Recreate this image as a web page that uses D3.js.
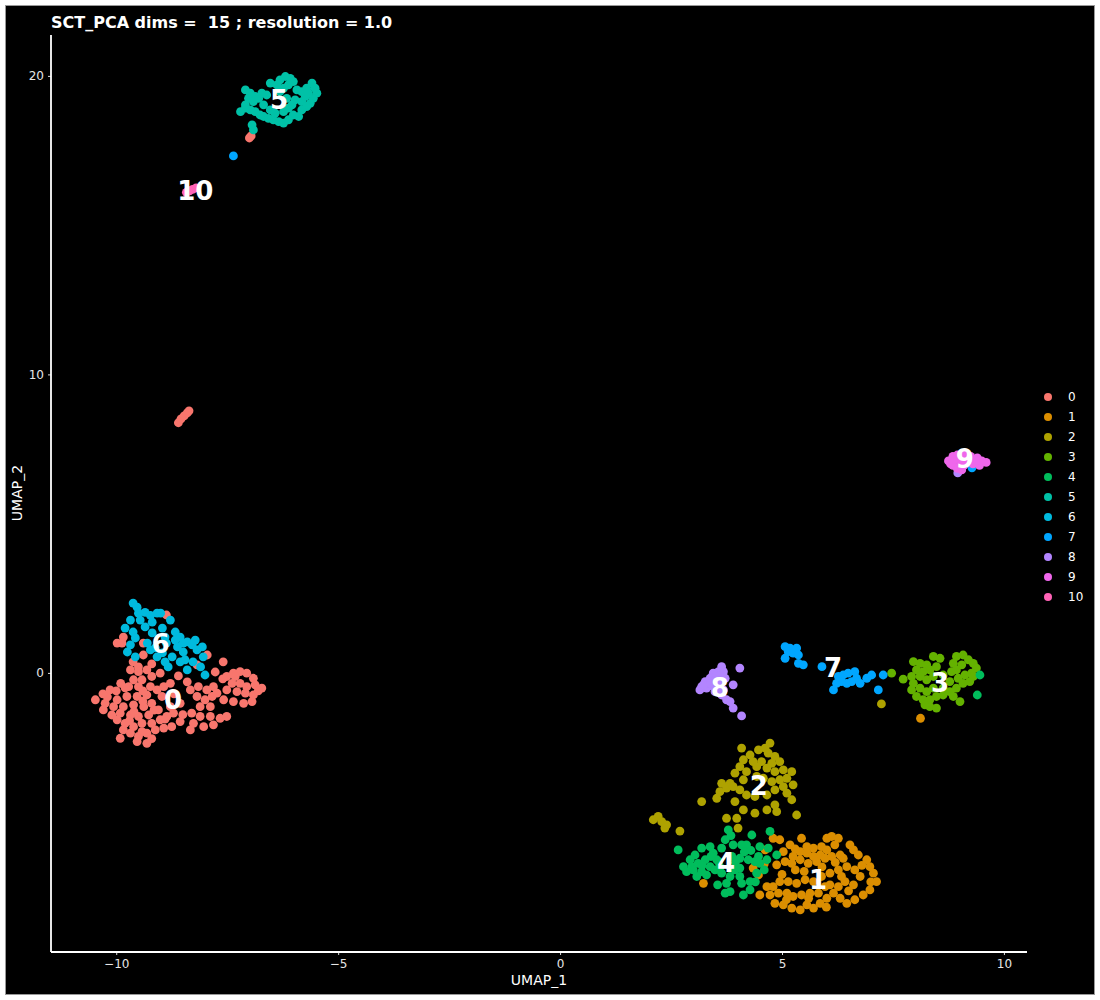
<!DOCTYPE html>
<html><head><meta charset="utf-8">
<script src="https://cdn.jsdelivr.net/npm/d3@7"></script>
<style>body{margin:0;background:#fff;}svg{display:block;font-family:"DejaVu Sans",sans-serif;}</style>
</head><body>
<svg id="chart" width="1100" height="1000"></svg>
<script>
const titleText = "SCT_PCA dims =  15 ; resolution = 1.0";
const clusterNames = ["0","1","2","3","4","5","6","7","8","9","10"];
const clusterColors = ["#F8766D","#DB8E00","#AEA200","#64B200","#00BD5C","#00C1A7","#00BADE","#00A6FF","#B385FF","#EF67EB","#FF63B6"];
const xTicks = [-10,-5,0,5,10];
const yTicks = [0,10,20];

const c0 = [[-9.68,0.1],[-9.5,0.04],[-9.31,0.1],[-9.2,-0.12],[-9.01,-0.01],[-9.42,-0.23],[-9.61,-0.23],[-9.72,-0.46],[-9.5,-0.46],[-9.23,-0.46],[-9.08,-0.57],[-9.31,-0.74],[-9.53,-0.79],[-9.76,-0.79],[-9.98,-0.9],[-10.14,-0.57],[-10.25,-1.02],[-10.06,-1.13],[-9.84,-1.13],[-9.61,-1.07],[-9.38,-1.13],[-9.2,-1.02],[-8.93,-0.46],[-8.78,-0.35],[-8.97,-0.79],[-9.05,-1.24],[-9.27,-1.41],[-9.5,-1.46],[-9.68,-1.41],[-9.91,-1.35],[-10.1,-1.41],[-10.29,-1.24],[-10.47,-0.9],[-9.98,-1.57],[-9.8,-1.69],[-9.61,-1.8],[-9.42,-1.69],[-9.2,-1.69],[-9.01,-1.57],[-8.86,-1.46],[-8.71,-1.35],[-8.56,-1.02],[-8.78,-1.13],[-9.68,-2.02],[-9.5,-2.13],[-9.31,-2.02],[-9.12,-1.91],[-8.93,-1.85],[-8.75,-1.8],[-8.56,-1.63],[-9.53,-2.3],[-9.31,-2.36],[-9.42,-1.97],[-9.84,-1.91],[-9.91,-2.19],
[-8.33,-0.57],[-8.15,-0.46],[-7.96,-0.57],[-7.81,-0.46],[-8.18,-0.79],[-8.0,-0.9],[-7.84,-0.79],[-7.73,-0.68],[-8.11,-1.13],[-7.88,-1.13],[-8.3,-1.35],[-8.11,-1.46],[-7.88,-1.46],[-7.66,-1.52],[-7.51,-1.46],[-8.26,-1.69],[-8.03,-1.8],[-7.81,-1.74],[-8.33,-1.91],
[-7.51,-0.12],[-7.36,-0.01],[-7.21,0.04],[-7.06,-0.01],[-6.91,-0.18],[-7.39,-0.35],[-7.21,-0.35],[-7.06,-0.46],[-6.87,-0.4],[-6.72,-0.51],[-7.51,-0.57],[-7.28,-0.63],[-7.09,-0.68],[-6.91,-0.74],[-7.36,-0.96],[-7.13,-1.02],[-6.94,-0.96],[-7.58,-0.9],[-7.32,-0.12],
[-8.87,1.94],[-9.84,1.2],[-9.98,1.0],[-9.87,1.0],[-9.39,1.0],[-9.39,0.6],[-9.62,0.37],[-7.95,0.6],[-7.59,0.37],[-7.77,0.03],[-8.18,0.27],[-9.5,0.2],[-9.2,0.3],[-8.6,-0.1],[-8.4,-0.3],
[-9.9,-0.35],[-10.0,-0.6],[-9.4,-0.95],[-9.15,-1.25],[-9.6,-1.3],[-10.2,-0.8],[-8.7,-0.7],[-8.9,-1.55],
[-9.8,-0.5],[-9.4,-0.6],[-9.7,-1.6],[-9.2,-2.2],[-8.5,-1.4],[-10.3,-0.7],[-7.6,-0.2],[-6.8,-0.6],
[-8.6,8.38],[-8.54,8.51],[-8.47,8.61],[-8.4,8.71],[-8.36,8.78],[-7.0,17.92],[-6.96,17.99]];

const c1 = [[4.8,-5.54],[4.95,-5.59],[5.18,-5.76],[5.44,-5.54],[5.56,-5.82],[5.71,-5.87],[5.89,-5.82],[6.01,-5.54],[6.12,-5.48],[6.27,-5.54],[6.19,-5.76],[6.01,-5.93],[5.86,-6.1],[5.71,-6.15],[5.56,-6.04],[5.41,-5.99],[5.25,-6.15],[5.03,-5.99],[4.88,-6.43],[5.07,-6.32],[5.22,-6.38],[5.41,-6.26],[5.59,-6.38],[5.78,-6.32],[5.97,-6.21],[6.12,-6.15],[6.31,-6.1],[6.53,-5.76],[6.61,-5.93],[6.72,-6.1],[6.91,-6.26],[6.98,-6.49],[7.06,-6.71],[7.13,-6.99],[6.98,-7.27],[6.83,-7.44],[6.64,-7.6],[6.46,-7.72],[6.31,-7.55],[6.16,-7.38],[6.01,-7.55],[5.86,-7.72],[5.71,-7.88],[5.56,-7.77],[5.41,-7.94],[5.22,-7.88],[5.03,-7.77],[4.84,-7.72],[4.73,-7.44],[4.8,-7.16],[4.95,-6.99],[5.14,-6.99],[5.33,-7.05],[5.52,-6.93],[5.71,-6.99],[5.89,-6.82],[6.08,-6.71],[6.27,-6.6],[6.46,-6.49],[6.64,-6.6],[6.76,-6.82],[6.61,-7.1],[6.42,-6.99],[6.27,-7.16],[6.08,-7.1],[5.97,-7.16],[5.82,-7.38],[5.63,-7.38],[5.44,-7.44],[5.25,-7.49],[5.11,-7.38],[4.92,-7.38],[4.66,-7.16],[4.5,-7.44],[4.47,-6.77],[4.62,-5.93],[4.35,-6.54],[3.23,-7.05],[6.38,-6.21],[6.34,-6.82],
[5.3,-6.6],[5.5,-6.65],[5.9,-6.5],[6.2,-6.35],[6.5,-7.3],[5.1,-7.6],[5.6,-7.55],[6.8,-6.45],[7.0,-7.0],[4.6,-6.4],[5.0,-6.75],[6.0,-7.85],[5.3,-5.9],[8.12,-1.52]];

const c2 = [[4.09,-2.52],[4.28,-2.75],[4.47,-2.58],[4.62,-2.52],[4.73,-2.35],[4.69,-2.69],[4.84,-2.8],[4.95,-2.97],[4.77,-3.03],[4.54,-2.97],[4.35,-2.97],[4.13,-2.91],[4.05,-3.14],[4.2,-3.31],[4.43,-3.14],[4.66,-3.19],[4.84,-3.31],[5.03,-3.25],[5.22,-3.31],[5.11,-3.53],[4.95,-3.58],[4.77,-3.64],[4.58,-3.53],[4.13,-3.58],[3.94,-3.36],[3.83,-3.7],[3.64,-3.7],[3.6,-3.98],[3.53,-4.2],[3.75,-3.86],[3.9,-3.81],[4.05,-3.92],[4.2,-4.09],[4.39,-4.14],[4.66,-4.09],[4.84,-3.92],[5.03,-3.81],[5.25,-3.75],[5.11,-4.03],[5.22,-4.25],[4.84,-4.42],[4.88,-4.65],[4.66,-4.59],[4.39,-4.7],[4.13,-4.59],[3.94,-4.31],[3.75,-4.87],[3.98,-4.87],[3.19,-4.31],[5.33,-4.76],[4.43,-3.47],[4.01,-5.2],[2.1,-4.92],[2.21,-4.81],[2.29,-4.98],[2.4,-5.09],[2.36,-5.2],[2.7,-5.3],[7.24,-1.04]];

const c3 = [[7.47,-0.01],[7.73,-0.21],[7.96,0.38],[8.11,0.32],[8.26,0.27],[8.41,0.55],[8.56,0.49],[8.48,0.21],[8.33,0.1],[8.18,0.04],[8.03,0.1],[7.92,-0.12],[8.11,-0.12],[8.26,-0.23],[8.41,-0.12],[8.63,-0.07],[8.82,0.04],[8.86,0.32],[8.93,0.55],[9.08,0.6],[9.2,0.44],[9.31,0.32],[9.38,0.16],[9.27,-0.01],[9.12,-0.07],[8.97,-0.18],[8.93,0.1],[8.78,-0.29],[9.08,-0.35],[9.23,-0.29],[8.93,-0.51],[8.78,-0.63],[8.63,-0.74],[8.48,-0.79],[8.33,-0.9],[8.18,-0.9],[8.03,-0.79],[7.92,-0.57],[7.96,-0.35],[8.11,-0.51],[8.26,-0.63],[8.41,-0.51],[8.63,-0.51],[8.86,-0.79],[9.01,-0.96],[8.33,-1.13],[8.48,-1.18],[8.22,-1.07],[9.31,-0.12],[9.05,0.27]];

const c4 = [[3.79,-5.26],[4.32,-5.43],[4.09,-5.76],[4.2,-5.76],[3.9,-5.76],[3.72,-5.59],[3.64,-5.87],[3.38,-5.82],[3.19,-5.87],[3.04,-6.1],[2.93,-6.26],[2.78,-6.49],[2.97,-6.49],[3.11,-6.38],[3.27,-6.26],[3.45,-6.04],[3.53,-6.26],[3.38,-6.49],[3.19,-6.66],[3.08,-6.82],[3.3,-6.77],[3.49,-6.6],[3.64,-6.71],[3.83,-6.82],[3.75,-7.05],[3.94,-6.6],[4.05,-6.82],[4.09,-7.05],[4.28,-6.99],[4.28,-7.27],[4.13,-7.44],[3.83,-7.33],[3.72,-7.38],[4.43,-6.71],[4.5,-6.38],[4.47,-6.15],[4.66,-6.26],[4.69,-5.87],[4.73,-5.31],[4.5,-5.82],[2.66,-5.93],[4.88,-6.1],[4.05,-6.21],[3.87,-6.15],[3.57,-6.32],[4.24,-6.26],[4.39,-6.32],[4.05,-6.54],[2.85,-6.66],
[3.4,-6.15],[3.2,-6.45],[3.6,-6.5],[3.95,-6.35],[4.15,-6.0],[3.55,-7.1],[4.4,-7.0],[3.0,-6.6],[4.6,-6.6],[3.85,-5.45],[4.3,-5.95],[9.46,-0.07],[9.4,-0.74]];

const c5 = [[-7.09,19.53],[-6.98,19.42],[-6.87,19.31],[-7.02,19.25],[-7.09,19.03],[-6.91,19.14],[-6.79,19.25],[-6.72,19.42],[-6.61,19.36],[-6.53,19.76],[-6.38,19.7],[-6.31,19.87],[-6.19,19.98],[-6.08,19.92],[-6.01,19.81],[-6.12,19.7],[-6.23,19.59],[-6.31,19.47],[-5.93,19.53],[-5.82,19.47],[-5.71,19.59],[-5.59,19.76],[-5.52,19.59],[-5.48,19.42],[-5.56,19.25],[-5.63,19.08],[-5.71,18.97],[-5.82,18.86],[-5.89,18.64],[-6.01,18.69],[-6.12,18.53],[-6.23,18.42],[-6.34,18.47],[-6.46,18.53],[-6.57,18.58],[-6.68,18.64],[-6.76,18.69],[-6.87,18.8],[-6.98,18.86],[-7.09,18.92],[-6.53,18.86],[-6.42,18.75],[-6.23,18.8],[-6.12,18.92],[-6.04,19.03],[-5.97,19.2],[-5.82,19.14],[-5.74,19.31],[-6.16,19.25],[-6.68,19.03],[-6.94,18.36],[-6.91,18.19],[-5.67,19.42],[-7.2,18.8]];

const c6 = [[-9.62,2.34],[-9.53,2.2],[-9.5,2.0],[-9.35,2.03],[-9.23,1.93],[-9.08,2.0],[-9.0,2.0],[-9.19,1.7],[-9.35,1.54],[-9.62,1.37],[-9.8,1.5],[-9.68,1.77],[-9.57,1.17],[-9.68,0.94],[-9.75,0.7],[-9.57,0.54],[-9.3,1.0],[-9.19,1.34],[-8.96,1.5],[-8.9,1.2],[-8.67,1.37],[-8.56,1.2],[-8.4,1.04],[-8.29,0.94],[-8.18,0.77],[-8.06,0.87],[-8.04,0.54],[-8.1,0.2],[-8.0,-0.07],[-8.4,0.1],[-8.56,0.37],[-8.74,0.54],[-8.9,0.37],[-8.83,0.2],[-8.96,0.67],[-9.12,0.84],[-9.23,0.77],[-8.62,0.87],[-8.49,0.7],[-8.27,0.37],[-8.67,1.1],[-8.49,1.0],[-8.87,1.0],[-9.08,0.54],[-8.78,1.77],[-9.46,1.77],[-8.45,0.44],[-8.22,1.1]];

const c7 = [[5.07,0.88],[5.18,0.83],[5.33,0.83],[5.14,0.71],[5.25,0.66],[5.07,0.49],[5.37,0.32],[5.48,0.27],[5.37,0.6],[5.9,0.21],[6.27,-0.12],[6.38,-0.07],[6.49,-0.01],[6.64,0.04],[6.68,-0.18],[6.57,-0.29],[6.46,-0.35],[6.34,-0.29],[6.23,-0.35],[6.16,-0.57],[6.76,-0.35],[6.91,-0.18],[7.02,-0.07],[7.28,-0.07],[7.17,-0.57],[9.28,6.87],[-7.36,17.32]];

const c8 = [[3.64,0.21],[3.57,0.04],[3.45,-0.01],[3.38,-0.18],[3.27,-0.29],[3.19,-0.46],[3.15,-0.57],[3.3,-0.51],[3.45,-0.46],[3.6,-0.35],[3.72,-0.18],[3.68,0.04],[3.53,-0.12],[3.38,-0.35],[3.49,-0.63],[3.64,-0.74],[3.75,-0.9],[3.83,-0.96],[4.05,0.16],[3.9,-0.4],[3.9,-1.18],[4.09,-1.44],[3.68,-0.57],[3.23,-0.4],[3.5,-0.25],[3.6,-0.1],[3.4,-0.35],[3.55,-0.6],[8.96,6.7]];

const c9 = [[8.75,7.1],[8.85,7.25],[8.95,7.3],[9.1,7.3],[9.25,7.25],[9.4,7.2],[9.5,7.1],[9.45,6.95],[9.3,7.0],[9.15,7.05],[9.0,7.1],[8.85,6.95],[8.95,6.85],[9.05,6.8],[8.8,7.0],[9.2,7.15],[9.35,7.1],[9.6,7.05],[8.9,7.15],[9.1,6.95]];

const c10 = [[-8.42,16.1],[-8.35,16.15],[-8.28,16.2],[-8.2,16.25]];

const labelX = [-8.72,5.81,4.48,8.56,3.74,-6.33,-9.0,6.15,3.6,9.12,-8.22];
const labelY = [-0.9,-6.93,-3.79,-0.33,-6.37,19.2,0.97,0.17,-0.5,7.17,16.15];

const clusters = [c0,c1,c2,c3,c4,c5,c6,c7,c8,c9,c10];

const svg = d3.select("#chart");
svg.append("rect").attr("x",5.5).attr("y",5.5).attr("width",1089).attr("height",989)
  .attr("fill","#000").attr("stroke","#999").attr("stroke-width",1);

const pLeft=51, pRight=1027, pTop=35, pBottom=952;
const x = d3.scaleLinear().domain([-11.47,10.52]).range([pLeft,pRight]);
const y = d3.scaleLinear().domain([-9.35,21.37]).range([pBottom,pTop]);

const g = svg.append("g");
clusters.forEach((pts,i)=>{
  g.selectAll(null).data(pts).enter().append("circle")
    .attr("cx",d=>x(d[0])).attr("cy",d=>y(d[1])).attr("r",4.4)
    .attr("fill",clusterColors[i]);
});

// axes
const xAxis = svg.append("g").attr("transform",`translate(0,${pBottom})`)
  .call(d3.axisBottom(x).tickValues(xTicks).tickSize(3).tickPadding(4).tickFormat(d3.format("d")));
const yAxis = svg.append("g").attr("transform",`translate(${pLeft},0)`)
  .call(d3.axisLeft(y).tickValues(yTicks).tickSize(3).tickPadding(4).tickFormat(d3.format("d")));
[xAxis,yAxis].forEach(a=>{
  a.select(".domain").remove();
  a.selectAll(".tick line").attr("stroke","#ddd");
  a.selectAll(".tick text").attr("fill","#e6e6e6").style("font-size","12px").style("font-family","DejaVu Sans");
});
svg.append("line").attr("x1",pLeft).attr("x2",pRight).attr("y1",pBottom).attr("y2",pBottom).attr("stroke","#fff").attr("stroke-width",1.8);
svg.append("line").attr("x1",pLeft).attr("x2",pLeft).attr("y1",pTop).attr("y2",pBottom).attr("stroke","#fff").attr("stroke-width",1.8);

// labels
svg.selectAll(null).data(clusterNames).enter().append("text")
  .attr("x",(d,i)=>x(labelX[i])).attr("y",(d,i)=>y(labelY[i]))
  .attr("text-anchor","middle").attr("dominant-baseline","central")
  .attr("fill","#fff").style("font-weight","bold").style("font-size","26px")
  .text(d=>d);

// axis titles
svg.append("text").attr("x",539).attr("y",985).attr("text-anchor","middle")
  .attr("fill","#fff").style("font-size","14px").text("UMAP_1");
svg.append("text").attr("transform","translate(22,493) rotate(-90)").attr("text-anchor","middle")
  .attr("fill","#fff").style("font-size","14px").text("UMAP_2");

// title
svg.append("text").attr("x",51).attr("y",28).attr("fill","#fff")
  .style("white-space","pre").attr("xml:space","preserve")
  .style("font-weight","bold").style("font-size","16px").text(titleText);

// legend
const lg = svg.append("g");
clusterNames.forEach((n,i)=>{
  lg.append("circle").attr("cx",1048).attr("cy",397+i*20).attr("r",4).attr("fill",clusterColors[i]);
  lg.append("text").attr("x",1068).attr("y",397+i*20).attr("dominant-baseline","central")
    .attr("fill","#fff").style("font-size","12px").text(n);
});
</script>
</body></html>
